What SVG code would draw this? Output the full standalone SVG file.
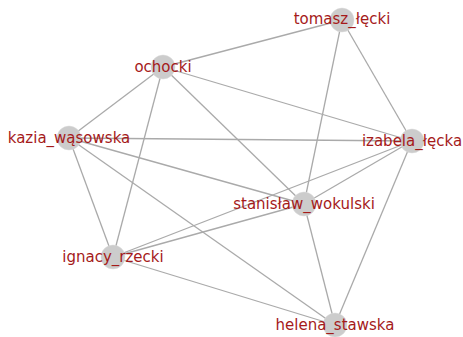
<svg xmlns="http://www.w3.org/2000/svg" width="463" height="337" viewBox="0 0 463 337">
<style>
.e{stroke:#aaaaaa;stroke-width:1.3;fill:none}
.n circle{fill:#cccccc;stroke:#dddddd;stroke-width:0.5}
.n text{font-family:"DejaVu Sans",sans-serif;font-size:15px;fill:#a51a1a;text-anchor:middle}
</style>
<rect width="463" height="337" fill="#ffffff"/>
<g id="edges">
<line class="e" x1="163" y1="67" x2="342" y2="20"/>
<line class="e" x1="163" y1="67" x2="69" y2="138"/>
<line class="e" x1="163" y1="67" x2="113" y2="257"/>
<line class="e" x1="163" y1="67" x2="304" y2="204"/>
<line class="e" x1="163" y1="67" x2="412" y2="141"/>
<line class="e" x1="342" y1="20" x2="304" y2="204"/>
<line class="e" x1="342" y1="20" x2="412" y2="141"/>
<line class="e" x1="69" y1="138" x2="412" y2="141"/>
<line class="e" x1="69" y1="138" x2="304" y2="204"/>
<line class="e" x1="69" y1="138" x2="113" y2="257"/>
<line class="e" x1="69" y1="138" x2="335" y2="325"/>
<line class="e" x1="412" y1="141" x2="304" y2="204"/>
<line class="e" x1="412" y1="141" x2="113" y2="257"/>
<line class="e" x1="412" y1="141" x2="335" y2="325"/>
<line class="e" x1="304" y1="204" x2="113" y2="257"/>
<line class="e" x1="304" y1="204" x2="335" y2="325"/>
<line class="e" x1="113" y1="257" x2="335" y2="325"/>
</g>
<g id="tomasz_lecki" class="n"><circle cx="342" cy="20" r="12"/></g>
<g id="ochocki" class="n"><circle cx="163" cy="67" r="12"/></g>
<g id="kazia_wasowska" class="n"><circle cx="69" cy="138" r="12"/></g>
<g id="izabela_lecka" class="n"><circle cx="412" cy="141" r="12"/></g>
<g id="stanislaw_wokulski" class="n"><circle cx="304" cy="204" r="12"/></g>
<g id="ignacy_rzecki" class="n"><circle cx="113" cy="257" r="12"/></g>
<g id="helena_stawska" class="n"><circle cx="335" cy="325" r="12"/></g>
<g id="labels" class="n">
<text x="342" y="24">tomasz_łęcki</text>
<text x="163" y="72">ochocki</text>
<text x="69" y="143">kazia_wąsowska</text>
<text x="412" y="146">izabela_łęcka</text>
<text x="304" y="209">stanisław_wokulski</text>
<text x="113" y="262">ignacy_rzecki</text>
<text x="335" y="330">helena_stawska</text>
</g>
</svg>
